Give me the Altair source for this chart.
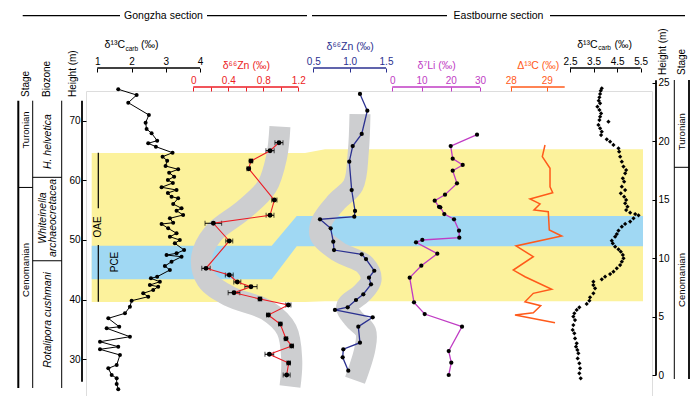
import altair as alt
import pandas as pd

FONT = "Liberation Sans"

# ---------------- data ----------------
# Gongzha section, delta13C carb (permil) vs height (m)
G_C13_VAL = [1.612, 2.149, 1.904, 2.507, 2.411, 2.440, 2.586, 2.749, 2.487, 2.711,
             3.198, 2.907, 3.041, 2.994, 3.362, 3.099, 3.245, 3.061, 3.207, 2.878,
             3.315, 3.061, 3.169, 3.362, 3.216, 3.461, 3.315, 3.507, 3.120, 3.216,
             2.878, 3.070, 3.315, 3.120, 3.411, 3.265, 3.536, 3.315, 3.023, 3.461,
             3.169, 2.974, 3.120, 2.749, 2.566, 2.828, 2.536, 2.778, 2.633, 2.341,
             2.487, 2.003, 1.953, 1.808, 1.321, 1.641, 1.274, 1.953, 1.079, 1.612,
             1.079, 1.662, 1.566, 1.321, 1.420, 1.566, 1.566, 1.612]
G_C13_H = [75.27, 74.31, 73.02, 70.96, 69.66, 68.61, 67.89, 66.65, 66.21, 65.64,
           64.63, 63.96, 63.29, 62.40, 61.84, 61.28, 60.61, 60.05, 59.55, 58.83,
           58.37, 57.87, 57.25, 56.98, 56.02, 55.30, 54.90, 54.18, 53.62, 52.88,
           52.67, 51.94, 51.11, 50.53, 49.98, 49.43, 48.30, 47.75, 47.46, 47.18,
           46.34, 45.62, 44.95, 43.82, 43.55, 42.98, 42.43, 42.15, 41.59, 41.04,
           40.47, 39.80, 38.79, 37.68, 36.84, 35.43, 35.17, 33.76, 32.92, 32.08,
           31.64, 30.69, 29.01, 28.45, 27.33, 26.78, 25.82, 24.93]

# Gongzha delta66Zn (red) with 2SD
ZN_R_VAL = [0.979, 0.877, 0.659, 0.633, 0.926, 0.877, 0.229, 0.411, 0.145, 0.411, 0.503,
            0.659, 0.465, 0.762, 1.086, 0.857, 0.994, 1.059, 1.125, 0.869, 1.090, 1.067]
ZN_R_H = [66.31, 64.97, 63.24, 61.95, 56.69, 54.13, 52.79, 49.82, 45.23, 44.11, 42.94,
          42.15, 41.14, 40.08, 39.08, 37.40, 35.89, 33.42, 32.20, 30.81, 29.35, 27.33]
ZN_R_ERR = [0.046, 0.047, 0.02, 0.02, 0.03, 0.045, 0.095, 0.04, 0.048, 0.045, 0.04,
            0.07, 0.067, 0.02, 0.03, 0.02, 0.02, 0.02, 0.02, 0.05, 0.02, 0.04]
# grey trend behind the red Zn curve
ZN_R_TREND_VAL = [0.99, 0.953, 0.839, 0.571, 0.229, 0.096, 0.153, 0.419, 0.839, 1.067, 1.125, 1.105]
ZN_R_TREND_H = [69.0, 64.0, 58.9, 55.0, 51.1, 47.2, 43.3, 40.5, 38.2, 34.9, 29.8, 25.4]

# Eastbourne delta66Zn (blue)
ZN_B_VAL = [1.142, 1.243, 1.166, 1.042, 0.995, 1.028, 1.074, 1.064, 0.592, 0.739, 0.775,
            0.785, 1.166, 1.225, 1.339, 1.266, 1.294, 1.188, 1.087, 0.973, 0.798, 1.317,
            1.119, 1.142, 0.913, 0.904, 0.981]
ZN_B_H = [24.02, 22.59, 20.60, 19.57, 18.23, 15.81, 14.02, 13.53, 13.31, 12.54, 11.39,
          10.68, 10.32, 9.91, 8.91, 8.32, 7.75, 6.90, 6.41, 5.79, 5.56, 4.93,
          4.13, 2.76, 2.20, 1.51, 0.37]
ZN_B_TREND_VAL = [1.142, 1.119, 1.050, 0.822, 0.616, 0.592, 0.844, 1.211, 1.294, 1.166,
                  0.959, 1.050, 1.221, 1.211, 1.074]
ZN_B_TREND_H = [22.30, 19.09, 16.24, 14.81, 13.10, 11.97, 10.54, 9.40, 8.12, 6.98,
                5.84, 4.85, 3.70, 2.28, -0.45]

# Eastbourne delta7Li
LI_VAL = [28.98, 19.98, 20.66, 24.08, 20.66, 22.13, 18.03, 14.51, 15.98, 16.42, 17.79,
          21.11, 22.82, 22.92, 10.26, 8.11, 15.40, 9.92, 5.95, 7.42, 11.08, 23.85,
          19.30, 20.18, 19.30]
LI_H = [20.54, 19.57, 18.49, 17.95, 17.46, 16.38, 15.41, 14.90, 14.38, 14.33, 13.76,
        13.31, 12.33, 11.74, 11.54, 11.34, 10.37, 9.34, 8.32, 6.21, 5.21, 4.13,
        2.05, 1.05, 0.00]

# Eastbourne Delta13C
D13_VAL = [28.953, 28.878, 29.092, 29.092, 29.167, 28.536, 28.814, 28.647, 29.044, 29.072,
           29.417, 28.147, 28.628, 28.072, 28.397, 29.139, 28.628, 28.397, 28.833, 28.628,
           28.119, 29.231]
D13_H = [19.66, 18.66, 17.67, 16.09, 15.58, 15.04, 14.62, 14.10, 13.96, 12.39,
         11.88, 11.03, 10.11, 8.97, 8.40, 7.32, 6.98, 6.26, 5.92, 5.32, 5.13, 4.47]

# Eastbourne delta13C carb
E_C13_VAL = [3.848, 3.805, 3.777, 3.748, 3.720, 3.777, 3.663, 3.748, 3.819, 3.777,
             3.748, 4.131, 3.706, 3.777, 3.848, 3.819, 4.060, 4.202, 4.344, 4.557,
             4.585, 4.628, 4.699, 4.770, 4.883, 4.840, 4.741, 4.798, 4.699, 4.840,
             4.656, 4.798, 4.883, 4.840, 4.940, 4.883, 5.053, 5.266, 5.408, 5.195,
             5.053, 4.840, 4.699, 4.557, 4.486, 4.415, 4.273, 4.316, 4.415, 4.557,
             4.656, 4.741, 4.770, 4.699, 4.628, 4.486, 4.344, 4.202, 3.989, 3.848,
             3.493, 3.493, 3.564, 3.493, 3.351, 3.323, 3.209, 2.897, 2.784, 2.684,
             2.642, 2.713, 2.642, 2.613, 2.684, 2.713, 2.784, 2.755, 2.812, 2.855,
             2.826, 2.897, 2.926, 2.897, 2.954]
E_C13_H = [24.50, 24.30, 24.02, 23.73, 23.45, 23.22, 22.93, 22.65, 22.36, 22.08,
           21.79, 21.65, 21.37, 21.08, 20.80, 20.51, 20.14, 19.94, 19.66, 19.37,
           19.09, 18.66, 18.23, 17.81, 17.52, 17.24, 16.81, 16.52, 16.10, 15.81,
           15.53, 15.24, 14.96, 14.67, 14.39, 14.10, 13.87, 13.76, 13.65, 13.39,
           13.11, 12.91, 12.68, 12.34, 12.05, 11.82, 11.48, 11.25, 10.97, 10.74,
           10.54, 10.26, 9.97, 9.69, 9.40, 9.12, 8.83, 8.63, 8.40, 8.18,
           7.98, 7.69, 7.41, 6.98, 6.64, 6.35, 6.07, 5.78, 5.56, 5.27,
           4.99, 4.70, 4.27, 3.85, 3.56, 3.13, 2.71, 2.42, 2.14, 1.85,
           1.42, 1.00, 0.57, 0.14, -0.28]

# event intervals (height, m)
G_OAE = (39.6, 64.6)   # yellow, Gongzha
G_PCE = (43.4, 49.0)   # blue, Gongzha
E_OAE = (6.3, 19.3)    # yellow, Eastbourne
E_PCE = (11.0, 13.6)   # blue, Eastbourne

# ---------------- layout ----------------
PL, PT = 86.0, 91.0          # page position of plot area origin
W, H = 566, 305


def px(x):
    return x - PL


def py(y):
    return y - PT


G_DOM = [26.0, 73.5]
G_RNG = [py(382.94), py(99.84)]
E_DOM = [0.0, 25.0]
E_RNG = [py(375.0), py(82.5)]


def g_to_page(h):
    return 120.7 + (70 - h) * 5.96


def e_to_g(h):
    y = 375.0 - 11.7 * h
    return 70 - (y - 120.7) / 5.96


def yscale(which):
    if which == "G":
        return alt.Scale(domain=G_DOM, range=G_RNG, nice=False, zero=False)
    return alt.Scale(domain=E_DOM, range=E_RNG, nice=False, zero=False)


def xscale(dom, lo, hi):
    return alt.Scale(domain=dom, range=[px(lo), px(hi)], nice=False, zero=False)


RED = "#ec1c24"
NAVY = "#2b3190"
MAG = "#c03cc4"
ORG = "#ff5a1a"
YEL = "#fcf29c"
SKY = "#a0d8f3"
GREY = "#cdced0"

UP_ROW = 19      # axis offset for upper row of top axes
UP_LINE = -23    # plot y of upper axis line
LO_LINE = -4     # plot y of lower axis line


def top_axis(values, color, offset, title=None, fmt=None, expr=None, title_pad=5):
    kw = dict(orient="top", values=values, domain=False, ticks=True, tickSize=4,
              tickColor=color, tickWidth=1, labelColor=color, labelFontSize=10,
              labelFont=FONT, labelPadding=2, grid=False, offset=offset,
              labelFlush=False, labelOverlap=False)
    if title:
        kw.update(title=title, titleColor=color, titleFont=FONT, titleFontSize=10.5,
                  titleFontWeight="normal", titlePadding=title_pad)
    else:
        kw["title"] = None
    if fmt:
        kw["format"] = fmt
    if expr:
        kw["labelExpr"] = expr
    return alt.Axis(**kw)


def side_axis(orient, values):
    return alt.Axis(orient=orient, values=values, domain=False, tickSize=4, tickColor="black",
                    tickWidth=1, labelColor="black", labelFontSize=10, labelFont=FONT,
                    labelPadding=2, grid=False, title=None, labelFlush=False)


NOAX = None


def profile(df, xs, xax, ys, yax, color, lw, pt_size, pt_color="black", shape="circle",
            extra_below=(), extra_above=()):
    X = alt.X("v:Q", scale=xs, axis=xax)
    Y = alt.Y("h:Q", scale=ys, axis=yax)
    layers = list(extra_below)
    layers.append(alt.Chart(df).mark_line(color=color, strokeWidth=lw).encode(
        x=X, y=Y, order=alt.Order("h:Q", sort="descending")))
    if pt_size:
        layers.append(alt.Chart(df).mark_point(shape=shape, filled=True, color=pt_color,
                                               size=pt_size, opacity=1).encode(x=X, y=Y))
    layers.extend(extra_above)
    return layers


def x_axis_line(dom, xs, xax, color, ypix, w=1.3):
    d = pd.DataFrame({"lo": [dom[0]], "hi": [dom[1]]})
    return alt.Chart(d).mark_rule(color=color, strokeWidth=w).encode(
        x=alt.X("lo:Q", scale=xs, axis=xax), x2="hi:Q", y=alt.value(ypix))


def y_axis_line(dom, ys, yax, xpix, w=1.8):
    d = pd.DataFrame({"lo": [dom[0]], "hi": [dom[1]]})
    return alt.Chart(d).mark_rule(color="black", strokeWidth=w).encode(
        y=alt.Y("lo:Q", scale=ys, axis=yax), y2="hi:Q", x=alt.value(xpix))


ONE = pd.DataFrame({"k": [0]})


def label(s, x, y, size=10, angle=0, align="center", baseline="middle", color="black",
          italic=False):
    kw = dict(fontSize=size, align=align, baseline=baseline, color=color, font=FONT)
    if angle:
        kw["angle"] = angle
    if italic:
        kw["fontStyle"] = "italic"
    return alt.Chart(ONE).mark_text(**kw).encode(
        x=alt.value(px(x)), y=alt.value(py(y)), text=alt.value(s))


def seg(x1, y1, x2, y2, color="black", w=1.0):
    return alt.Chart(ONE).mark_rule(color=color, strokeWidth=w).encode(
        x=alt.value(px(x1)), y=alt.value(py(y1)), x2=alt.value(px(x2)), y2=alt.value(py(y2)))


# ---------------- background event bands ----------------
BX = alt.Scale(domain=[0, W], range=[0, W], nice=False, zero=False)
yel_df = pd.DataFrame({
    "x": [px(91.7), px(305), px(325), px(643)],
    "lo": [G_OAE[0], G_OAE[0], e_to_g(E_OAE[0]), e_to_g(E_OAE[0])],
    "hi": [G_OAE[1], G_OAE[1], e_to_g(E_OAE[1]), e_to_g(E_OAE[1])],
})
sky_df = pd.DataFrame({
    "x": [px(91.7), px(271.7), px(296.7), px(643)],
    "lo": [G_PCE[0], G_PCE[0], e_to_g(E_PCE[0]), e_to_g(E_PCE[0])],
    "hi": [G_PCE[1], G_PCE[1], e_to_g(E_PCE[1]), e_to_g(E_PCE[1])],
})


def band(df, color):
    return alt.Chart(df).mark_area(color=color, opacity=1).encode(
        x=alt.X("x:Q", scale=BX, axis=None),
        y=alt.Y("lo:Q", scale=yscale("G"), axis=None), y2="hi:Q")


bands = [band(yel_df, YEL), band(sky_df, SKY)]

# ---------------- panels ----------------
# Gongzha d13C
xs = xscale([1, 4], 97.3, 200)
xax = top_axis([1, 2, 3, 4], "black", UP_ROW, fmt="d")
ys = yscale("G")
yax = side_axis("left", [30, 40, 50, 60, 70])
df = pd.DataFrame({"v": G_C13_VAL, "h": G_C13_H})
p_c13g = alt.layer(*profile(df, xs, xax, ys, yax, "black", 1.0, 16),
                   x_axis_line([1, 4], xs, xax, "black", UP_LINE),
                   y_axis_line([26.2, 73.35], ys, yax, -4))

# Gongzha d66Zn (red)
xs = xscale([0, 1.2], 193.3, 298.3)
xax = top_axis([0, 0.2, 0.4, 0.6, 0.8, 1.0, 1.2], RED, 0, title="δ⁶⁶Zn (‰)", fmt=".1~f",
               expr="round(datum.value*10) % 4 == 0 ? datum.label : ''")
ys = yscale("G")
df = pd.DataFrame({"v": ZN_R_VAL, "h": ZN_R_H, "err": ZN_R_ERR})
df["lo"] = df["v"] - df["err"]
df["hi"] = df["v"] + df["err"]
caps = pd.DataFrame({"v": list(df["lo"]) + list(df["hi"]), "h": ZN_R_H + ZN_R_H})
trend = pd.DataFrame({"v": ZN_R_TREND_VAL, "h": ZN_R_TREND_H, "i": range(len(ZN_R_TREND_H))})
trend_layer = alt.Chart(trend).mark_line(color=GREY, strokeWidth=21, interpolate="catmull-rom",
                                          strokeCap="butt").encode(
    x=alt.X("v:Q", scale=xs, axis=xax), y=alt.Y("h:Q", scale=ys, axis=NOAX), order="i:Q")
err_layer = alt.Chart(df).mark_rule(color="black", strokeWidth=1).encode(
    x=alt.X("lo:Q", scale=xs, axis=xax), x2="hi:Q", y=alt.Y("h:Q", scale=ys, axis=NOAX))
cap_layer = alt.Chart(caps).mark_tick(color="black", orient="vertical", size=5, thickness=1).encode(
    x=alt.X("v:Q", scale=xs, axis=xax), y=alt.Y("h:Q", scale=ys, axis=NOAX))
p_znr = alt.layer(*profile(df[["v", "h"]], xs, xax, ys, NOAX, RED, 1.1, 24,
                           extra_below=[trend_layer, err_layer, cap_layer]),
                  x_axis_line([0, 1.2], xs, xax, RED, LO_LINE))

# Eastbourne d66Zn (navy)
xs = xscale([0.5, 1.5], 313.3, 386)
xax = top_axis([0.5, 1.0, 1.5], NAVY, UP_ROW, title="δ⁶⁶Zn (‰)", fmt=".1f")
ys = yscale("E")
df = pd.DataFrame({"v": ZN_B_VAL, "h": ZN_B_H})
trend = pd.DataFrame({"v": ZN_B_TREND_VAL, "h": ZN_B_TREND_H, "i": range(len(ZN_B_TREND_H))})
trend_layer = alt.Chart(trend).mark_line(color=GREY, strokeWidth=21, interpolate="catmull-rom",
                                          strokeCap="butt").encode(
    x=alt.X("v:Q", scale=xs, axis=xax), y=alt.Y("h:Q", scale=ys, axis=NOAX), order="i:Q")
p_znb = alt.layer(*profile(df, xs, xax, ys, NOAX, NAVY, 1.3, 18, extra_below=[trend_layer]),
                  x_axis_line([0.5, 1.5], xs, xax, NAVY, UP_LINE))

# Eastbourne d7Li
xs = xscale([0, 30], 392.3, 480)
xax = top_axis([0, 10, 20, 30], MAG, 0, title="δ⁷Li (‰)")
df = pd.DataFrame({"v": LI_VAL, "h": LI_H})
p_li = alt.layer(*profile(df, xs, xax, ys, NOAX, MAG, 1.3, 18),
                 x_axis_line([0, 30], xs, xax, MAG, LO_LINE))

# Eastbourne Delta13C
xs = xscale([28, 29.5], 510.7, 564.7)
xax = top_axis([28, 29], ORG, 0, title="Δ¹³C (‰)")
df = pd.DataFrame({"v": D13_VAL, "h": D13_H})
p_d13 = alt.layer(*profile(df, xs, xax, ys, NOAX, ORG, 1.5, 0),
                  x_axis_line([28, 29.5], xs, xax, ORG, LO_LINE))

# Eastbourne d13C carb
xs = xscale([2.5, 5.5], 570, 640.7)
xax = top_axis([2.5, 3.5, 4.5, 5.5], "black", UP_ROW, fmt=".1f")
yax = side_axis("right", [0, 5, 10, 15, 20, 25])
df = pd.DataFrame({"v": E_C13_VAL, "h": E_C13_H})
e_pts = alt.Chart(df).mark_point(shape="diamond", filled=True, color="black", size=18,
                                 opacity=1).encode(
    x=alt.X("v:Q", scale=xs, axis=xax), y=alt.Y("h:Q", scale=ys, axis=yax))
p_c13e = alt.layer(e_pts,
                   x_axis_line([2.5, 5.5], xs, xax, "black", UP_LINE),
                   y_axis_line([0, 25.2], ys, yax, W + 4))

# ---------------- annotations ----------------
ann = []
# section headers
ann += [seg(22.7, 15.7, 120, 15.7, w=1.2), seg(207, 15.7, 307, 15.7, w=1.2),
        label("Gongzha section", 163.5, 16, size=10.5),
        seg(312, 15.7, 447, 15.7, w=1.2), seg(550, 15.7, 685, 15.7, w=1.2),
        label("Eastbourne section", 498.5, 16, size=10.5)]
# d13C carb titles
ann += [label("δ¹³C", 125, 45, size=10.5, align="right"),
        label("carb", 125.5, 48.5, size=6.5, align="left"),
        label("(‰)", 141, 45, size=10.5, align="left"),
        label("δ¹³C", 597.7, 44.5, size=10.5, align="right"),
        label("carb", 598.3, 48, size=6.5, align="left"),
        label("(‰)", 614.5, 44.5, size=10.5, align="left")]
# column headers
ann += [label("Stage", 26, 97, angle=270, align="left"),
        label("Biozone", 47, 97, angle=270, align="left"),
        label("Height (m)", 73, 97, angle=270, align="left"),
        label("Height (m)", 663, 75, angle=270, align="left"),
        label("Stage", 682, 75, angle=270, align="left")]
# left stage / biozone columns
ann += [seg(18.3, 100.7, 18.3, 388, w=2), seg(32.7, 100.7, 32.7, 388, w=1),
        seg(61.7, 100.7, 61.7, 388, w=1),
        seg(18.3, g_to_page(58.8), 32.7, g_to_page(58.8)),
        seg(32.7, g_to_page(60.5), 61.7, g_to_page(60.5)),
        seg(32.7, g_to_page(46.5), 61.7, g_to_page(46.5)),
        label("Turonian", 26.3, 130, size=9.5, angle=270),
        label("Cenomanian", 26.3, 270, size=9.5, angle=270),
        label("H. helvetica", 47.5, 141.7, size=10.5, angle=270, italic=True),
        label("Whiteinella", 42.5, 218, size=10.5, angle=270, italic=True),
        label("archaeocretacea", 53, 218, size=10.5, angle=270, italic=True),
        label("Rotalipora cushmani", 47.5, 320, size=10.5, angle=270, italic=True)]
# right stage column
ann += [seg(674.3, 80, 674.3, 379, w=1), seg(689, 80, 689, 379, w=1.8),
        seg(674.3, 167.3, 689, 167.3),
        label("Turonian", 681.5, 131.7, size=9.5, angle=270),
        label("Cenomanian", 681.5, 280, size=9.5, angle=270)]
# OAE / PCE markers
ann += [seg(98.3, 152.7, 98.3, 208.3, w=1.2), seg(98.3, 245, 98.3, 301.7, w=1.2),
        label("OAE", 98.3, 227, size=10, angle=270),
        label("PCE", 115, 262, size=10, angle=270)]

chart = alt.layer(*bands, *ann, p_c13g, p_znr, p_znb, p_li, p_d13, p_c13e).resolve_scale(
    x="independent", y="independent").resolve_axis(x="independent", y="independent").properties(
    width=W, height=H,
    padding={"left": 78, "top": 83, "right": 40, "bottom": 0},
    autosize=alt.AutoSizeParams(type="none"),
    background="white",
).configure_view(stroke=None).configure(font=FONT)

chart.save("out.html", embed_options={"renderer": "svg", "actions": False})
